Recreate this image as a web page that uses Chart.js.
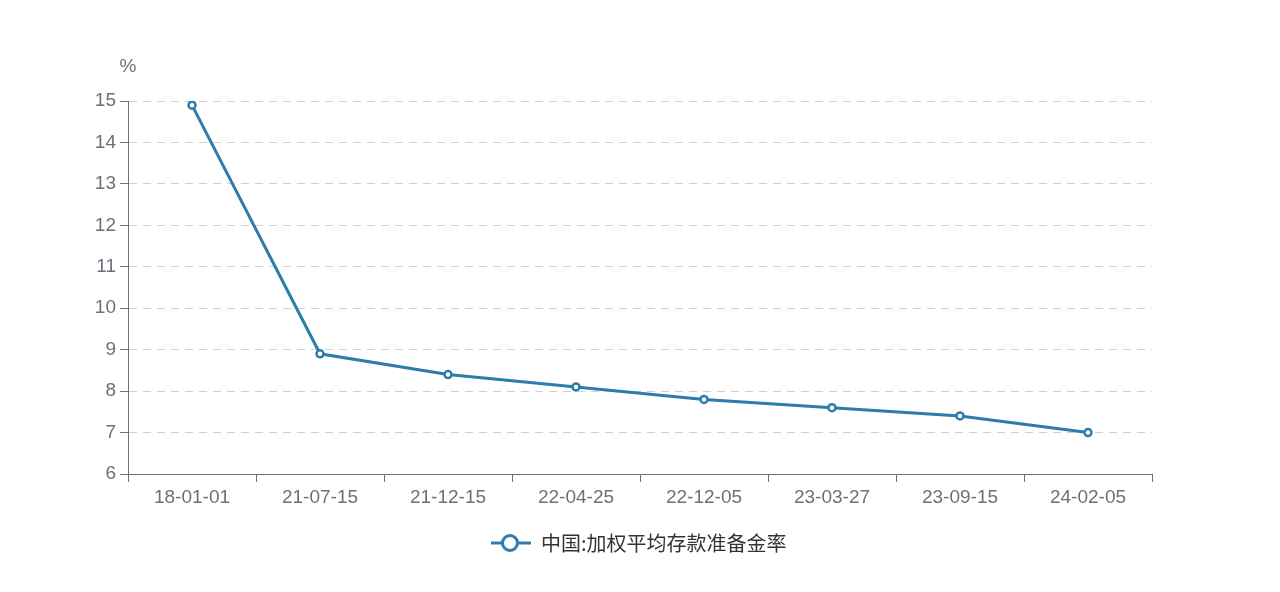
<!DOCTYPE html>
<html>
<head>
<meta charset="utf-8">
<script src="https://cdn.jsdelivr.net/npm/chart.js@4/dist/chart.umd.min.js"></script>
<style>
  html, body { margin: 0; padding: 0; background: #fff; }
  #wrap { width: 1280px; height: 592px; }
</style>
</head>
<body>
<div id="wrap"><canvas id="myChart" width="1280" height="592"></canvas></div>
<script>
var categories = ['18-01-01', '21-07-15', '21-12-15', '22-04-25', '22-12-05', '23-03-27', '23-09-15', '24-02-05'];
var rrrValues = [14.9, 8.9, 8.4, 8.1, 7.8, 7.6, 7.4, 7.0];
var seriesName = '中国:加权平均存款准备金率';
var yUnit = '%';

var lineColor = '#2d7caa';
var axisColor = '#6e7079';
var labelFont = { family: '"Liberation Sans", "Noto Sans CJK SC", sans-serif', size: 19 };

// unit label and legend drawn by hand
var extras = {
    id: 'extras',
    afterDraw: function (chart) {
        var c = chart.ctx;
        var area = chart.chartArea;
        c.save();
        c.fillStyle = axisColor;
        c.font = '19px "Liberation Sans", sans-serif';
        c.textAlign = 'center';
        c.textBaseline = 'middle';
        c.fillText(yUnit, area.left, 67);

        var ly = 543;
        c.strokeStyle = lineColor;
        c.lineWidth = 3;
        c.beginPath();
        c.moveTo(491, ly);
        c.lineTo(531, ly);
        c.stroke();
        c.beginPath();
        c.arc(510, ly, 7.5, 0, Math.PI * 2);
        c.fillStyle = '#fff';
        c.fill();
        c.stroke();

        c.fillStyle = '#333';
        c.font = '20px "Noto Sans CJK SC", sans-serif';
        c.textAlign = 'left';
        c.fillText(seriesName, 541, ly);
        c.restore();
    }
};

var ctx = document.getElementById('myChart').getContext('2d');
var myChart = new Chart(ctx, {
    type: 'line',
    data: {
        labels: categories,
        datasets: [{
            label: seriesName,
            data: rrrValues,
            borderColor: lineColor,
            borderWidth: 3,
            pointRadius: 3.5,
            pointBorderWidth: 2.5,
            pointBackgroundColor: '#fff',
            pointBorderColor: lineColor,
            tension: 0
        }]
    },
    options: {
        responsive: false,
        animation: false,
        layout: { padding: { top: 101, right: 128, left: 0, bottom: 0 } },
        plugins: {
            legend: { display: false },
            tooltip: { enabled: false }
        },
        scales: {
            x: {
                offset: true,
                afterFit: function (scale) { scale.height = 118; },
                grid: {
                    offset: true,
                    drawOnChartArea: false,
                    tickLength: 8,
                    tickColor: axisColor
                },
                border: { color: axisColor, width: 1 },
                ticks: { color: axisColor, font: labelFont, padding: 4, maxRotation: 0 }
            },
            y: {
                min: 6,
                max: 15,
                afterFit: function (scale) { scale.width = 128; },
                grid: {
                    color: '#d2d2d2',
                    tickLength: 8,
                    tickColor: axisColor,
                    tickBorderDash: []
                },
                border: { color: axisColor, width: 1, dash: [8, 6] },
                ticks: { stepSize: 1, color: axisColor, font: labelFont, padding: 4 }
            }
        }
    },
    plugins: [extras]
});
</script>
</body>
</html>
